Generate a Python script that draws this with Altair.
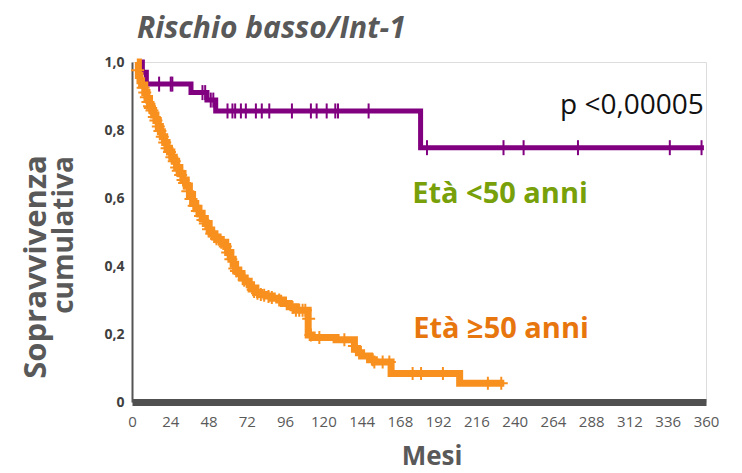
import altair as alt
import pandas as pd

# ---- data ----
# Età <50 anni (purple) step curve: time in months, cumulative survival
young_time = [4, 6.5, 9, 37, 47, 52.5, 181, 358.7]
young_surv = [1.0, 0.97, 0.935, 0.91, 0.888, 0.856, 0.748, 0.748]
young_cens_time = [17.0, 24.3, 25.3, 44.2, 45.9, 49.4, 51.0, 59.9, 63.0, 64.7, 68.3,
                   71.4, 77.7, 81.4, 86.1, 100.3, 112.2, 115.8, 122.1, 127.5, 129.2,
                   148.4, 185, 233, 245.6, 279.7, 337.3, 357.2]
young_cens_surv = [0.935, 0.935, 0.935, 0.91, 0.91, 0.888, 0.888, 0.856, 0.856, 0.856,
                   0.856, 0.856, 0.856, 0.856, 0.856, 0.856, 0.856, 0.856, 0.856, 0.856,
                   0.856, 0.856, 0.748, 0.748, 0.748, 0.748, 0.748, 0.748]

# Età >=50 anni (orange) step curve
old_time = [3, 4, 5, 6, 8, 9.4, 11, 12.5, 13.6, 15, 16.5, 17.8, 19, 20.5, 22, 23.5, 25,
            26.5, 28, 30, 32, 34, 36, 38, 40, 42, 44, 46, 48.4, 50, 52, 54, 56, 58.8,
            60, 62, 63.5, 65, 67, 69, 71, 73.5, 75, 77.7, 80, 84, 88, 92, 95, 98.6,
            102.8, 110.5, 113, 128, 139.5, 142, 144, 149, 152, 162.5, 205.5, 233.5]
old_surv = [1.0, 0.96, 0.945, 0.932, 0.91, 0.893, 0.87, 0.857, 0.844, 0.828, 0.81, 0.795,
            0.78, 0.763, 0.746, 0.735, 0.72, 0.708, 0.69, 0.672, 0.653, 0.635, 0.61,
            0.584, 0.57, 0.555, 0.54, 0.525, 0.506, 0.495, 0.485, 0.478, 0.47, 0.457,
            0.44, 0.42, 0.405, 0.388, 0.378, 0.365, 0.355, 0.345, 0.335, 0.322, 0.316,
            0.312, 0.305, 0.30, 0.29, 0.28, 0.27, 0.197, 0.19, 0.183, 0.155, 0.145,
            0.135, 0.124, 0.118, 0.084, 0.055, 0.055]
old_cens_time = [3.5, 7, 8, 9, 10, 11, 11.5, 12.5, 14, 15, 16.5, 17.5, 19, 20.5, 22, 23.5,
                 25, 26.5, 28, 29, 30.5, 32, 33, 35, 37, 39, 41, 43, 44.5, 46, 48, 50,
                 51.5, 53, 56, 58.5, 60, 62, 64.5, 65.5, 67, 70.4, 73, 76, 76.6, 78.7,
                 80.8, 82.9, 85.6, 87.7, 92.3, 100.7, 102.8, 104.9, 107, 108.7, 110.8,
                 112.2, 117.5, 133.2, 139.5, 151, 152, 157.2, 161.4, 176, 181.3, 195,
                 223.2, 231.6]
old_cens_surv = [0.976, 0.924, 0.91, 0.896, 0.882, 0.87, 0.865, 0.857, 0.838, 0.828, 0.81,
                 0.797, 0.78, 0.763, 0.746, 0.735, 0.72, 0.708, 0.69, 0.68, 0.668, 0.653,
                 0.644, 0.62, 0.597, 0.577, 0.562, 0.547, 0.535, 0.525, 0.508, 0.495,
                 0.487, 0.48, 0.47, 0.457, 0.44, 0.42, 0.393, 0.385, 0.378, 0.358, 0.346,
                 0.33, 0.325, 0.32, 0.316, 0.314, 0.31, 0.307, 0.30, 0.278, 0.27, 0.27,
                 0.27, 0.27, 0.245, 0.197, 0.19, 0.183, 0.165, 0.124, 0.118, 0.118,
                 0.118, 0.084, 0.084, 0.084, 0.055, 0.055]

x_ticks = list(range(0, 361, 24))
y_ticks = [0, 0.2, 0.4, 0.6, 0.8, 1.0]

PURPLE = "#800080"
ORANGE = "#f8901f"
GREEN_TXT = "#78a00a"
ORANGE_TXT = "#e8760f"
GRAY = "#595959"
FONT = "Open Sans"

young = pd.DataFrame({"t": young_time, "s": young_surv})
old = pd.DataFrame({"t": old_time, "s": old_surv})
young_c = pd.DataFrame({"t": young_cens_time, "s": young_cens_surv})
old_c = pd.DataFrame({"t": old_cens_time, "s": old_cens_surv})

xscale = alt.Scale(domain=[0, 360], nice=False, zero=False)
yscale = alt.Scale(domain=[0, 1], nice=False)

xaxis = alt.Axis(values=x_ticks, title=None, grid=False, ticks=False, tickSize=0,
                 labelFont=FONT, labelFontSize=15, labelColor=GRAY, labelPadding=12,
                 labelOverlap=False, domainColor="#505050", domainWidth=7,
                 labelFlush=False)
yaxis = alt.Axis(values=y_ticks, title=None, grid=False, ticks=False, tickSize=0,
                 labelFont=FONT, labelFontSize=14, labelFontWeight="bold",
                 labelColor="#404040", labelPadding=8, domainColor="#555555",
                 domainWidth=2, labelOverlap=False,
                 labelExpr="datum.value == 0 ? '0' : replace(format(datum.value, '.1f'), '.', ',')")

X = alt.X("t:Q", scale=xscale, axis=xaxis)
Y = alt.Y("s:Q", scale=yscale, axis=yaxis)

young_line = alt.Chart(young).mark_line(interpolate="step-after", color=PURPLE,
                                        strokeWidth=5).encode(x=X, y=Y)
young_ticks = alt.Chart(young_c).mark_point(shape="M0,-1L0,1", size=225, filled=False,
                                            color=PURPLE, strokeWidth=2,
                                            opacity=1).encode(x=X, y=Y)
old_line = alt.Chart(old).mark_line(interpolate="step-after", color=ORANGE,
                                    strokeWidth=7).encode(x=X, y=Y)
old_ticks = alt.Chart(old_c).mark_point(shape="M-1,0L1,0M0,-1L0,1", size=169,
                                        filled=False, color=ORANGE, strokeWidth=2,
                                        opacity=1).encode(x=X, y=Y)


def label(text, x, y, size, color, weight="bold", align="left", baseline="alphabetic",
          angle=0, style="normal"):
    return alt.Chart(pd.DataFrame({"txt": [text]})).mark_text(
        font=FONT, fontSize=size, fontWeight=weight, color=color, align=align,
        baseline=baseline, angle=angle, fontStyle=style
    ).encode(x=alt.value(x), y=alt.value(y), text="txt:N")


texts = [
    label("Rischio basso/Int-1", 5, -24, 30, GRAY, style="italic"),
    label("p <0,00005", 428, 52, 28, "#111111", weight="normal"),
    label("Età <50 anni", 368, 141, 29, GREEN_TXT, align="center"),
    label("Età ≥50 anni", 369, 276, 29, ORANGE_TXT, align="center"),
    label("Sopravvivenza", -95, 205, 31, GRAY, align="center", baseline="middle", angle=270),
    label("cumulativa", -67, 173, 28, GRAY, align="center", baseline="middle", angle=270),
    label("Mesi", 300, 403, 26, GRAY, align="center"),
]

chart = alt.layer(young_line, young_ticks, old_line, old_ticks, *texts).properties(
    width=574, height=340,
    autosize=alt.AutoSizeParams(type="none"),
    padding={"left": 132, "top": 62, "right": 36, "bottom": 71},
).configure_view(stroke=None).configure(background="white")

chart.save("out.html", embed_options={"renderer": "svg", "actions": False})
